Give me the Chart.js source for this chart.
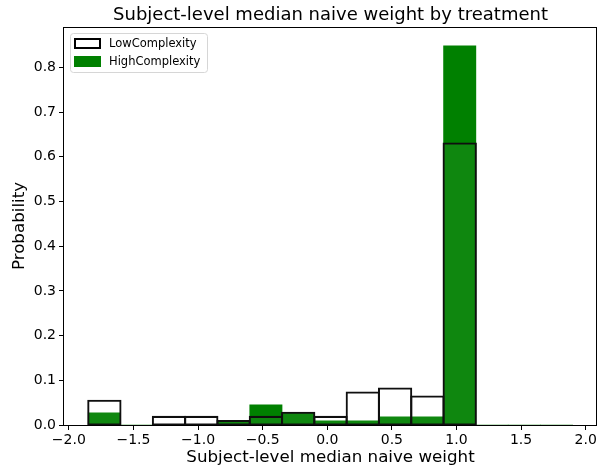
<!DOCTYPE html>
<html><head><meta charset="utf-8">
<script src="https://cdn.jsdelivr.net/npm/chart.js@4.4.0/dist/chart.umd.min.js"></script>
<style>html,body{margin:0;padding:0;background:#fff}#wrap{width:598px;height:472px;position:relative}</style>
</head><body><div id="wrap"><canvas id="c" width="598" height="472"></canvas></div>
<script>
const binCenters = [-1.725,-1.475,-1.225,-0.975,-0.725,-0.475,-0.225,0.025,0.275,0.525,0.775,1.025,1.275,1.525,1.775];
const lowComplexity = [0.0545,0,0.0182,0.0182,0.0091,0.0182,0.0273,0.0182,0.0727,0.0818,0.0636,0.6300,0,0,0];
const highComplexity = [0.0275,0,0,0,0.0092,0.0450,0.0275,0.0092,0.0092,0.0183,0.0183,0.8480,0,0,0];
const xTicks = [-2.0,-1.5,-1.0,-0.5,0.0,0.5,1.0,1.5,2.0];
const yTicks = [0.0,0.1,0.2,0.3,0.4,0.5,0.6,0.7,0.8];
const seriesNames = ['LowComplexity','HighComplexity'];
const titleText = 'Subject-level median naive weight by treatment';
const xLabelText = 'Subject-level median naive weight';
const yLabelText = 'Probability';

const FONT = '"DejaVu Sans", sans-serif';
const fmt = v => (v < 0 ? '\u2212' : '') + Math.abs(v).toFixed(1);
const toPts = vals => binCenters.map((c, i) => ({x: c, y: vals[i]}));

const decor = {
  id: 'decor',
  afterDraw(chart) {
    const ctx = chart.ctx, a = chart.chartArea;
    ctx.save();
    ctx.strokeStyle = '#000'; ctx.lineWidth = 1;
    ctx.strokeRect(Math.round(a.left) - 0.5, Math.round(a.top) + 0.5, Math.round(a.right - a.left), Math.round(a.bottom - a.top));
    ctx.fillStyle = '#000';
    ctx.textAlign = 'center'; ctx.textBaseline = 'middle';
    ctx.font = '18px ' + FONT;
    ctx.fillText(titleText, (a.left + a.right) / 2, 15);
    ctx.font = '16.7px ' + FONT;
    ctx.fillText(xLabelText, (a.left + a.right) / 2, 458);
    ctx.save();
    ctx.translate(20, (a.top + a.bottom) / 2);
    ctx.rotate(-Math.PI / 2);
    ctx.fillText(yLabelText, 0, 0);
    ctx.restore();
    const lx = 70, ly = 33, lw = 137, lh = 39;
    ctx.beginPath();
    ctx.roundRect(lx + 0.5, ly + 0.5, lw, lh, 3);
    ctx.fillStyle = 'rgba(255,255,255,0.8)'; ctx.fill();
    ctx.strokeStyle = '#d6d6d6'; ctx.lineWidth = 1; ctx.stroke();
    const ds = chart.data.datasets;
    ctx.font = '11.5px ' + FONT; ctx.textAlign = 'left';
    [ds[0], ds[1]].forEach((d, i) => {
      const y = 39 + i * 18;
      if (d.borderWidth) {
        ctx.fillStyle = '#fff'; ctx.fillRect(75, y, 25, 9);
        ctx.strokeStyle = d.borderColor; ctx.lineWidth = 2; ctx.strokeRect(75, y, 25, 9);
      } else {
        ctx.fillStyle = d.backgroundColor; ctx.fillRect(74, y - 1, 27, 11);
      }
      ctx.fillStyle = '#000';
      ctx.fillText(d.label, 109, y + 5);
    });
    ctx.restore();
  }
};

new Chart(document.getElementById('c'), {
  type: 'bar',
  data: {
    datasets: [
      {label: seriesNames[0], data: toPts(lowComplexity), backgroundColor: 'rgba(255,255,255,0.06)', borderColor: '#000', borderWidth: 0.05, borderSkipped: false, inflateAmount: 1, order: 0, barPercentage: 1, categoryPercentage: 1, grouped: false},
      {label: seriesNames[1], data: toPts(highComplexity), backgroundColor: '#008000', borderWidth: 0, order: 1, barPercentage: 1, categoryPercentage: 1, grouped: false}
    ]
  },
  options: {
    responsive: false, devicePixelRatio: 1, animation: false,
    layout: {padding: {top: 27, left: 0, right: 1, bottom: 0}},
    plugins: {legend: {display: false}, title: {display: false}, tooltip: {enabled: false}},
    scales: {
      x: {
        type: 'linear', min: -2.0375, max: 2.0875, offset: false,
        afterBuildTicks: s => { s.ticks = xTicks.map(v => ({value: v})); },
        afterFit: s => { s.height = 47; s.paddingLeft = 0; s.paddingRight = 0; },
        grid: {display: true, drawOnChartArea: false, drawTicks: true, tickLength: 5, tickColor: '#000', offset: false},
        border: {display: false},
        ticks: {font: {family: FONT, size: 14}, color: '#000', padding: 2, maxRotation: 0, autoSkip: false, callback: v => fmt(v)}
      },
      y: {
        type: 'linear', min: 0, max: 0.8904,
        afterBuildTicks: s => { s.ticks = yTicks.map(v => ({value: v})); },
        afterFit: s => { s.width = 64; s.paddingTop = 0; s.paddingBottom = 0; },
        grid: {display: true, drawOnChartArea: false, drawTicks: true, tickLength: 5, tickColor: '#000'},
        border: {display: false},
        ticks: {font: {family: FONT, size: 14}, color: '#000', padding: 3, autoSkip: false, callback: v => fmt(v)}
      }
    }
  },
  plugins: [decor]
});
</script></body></html>
